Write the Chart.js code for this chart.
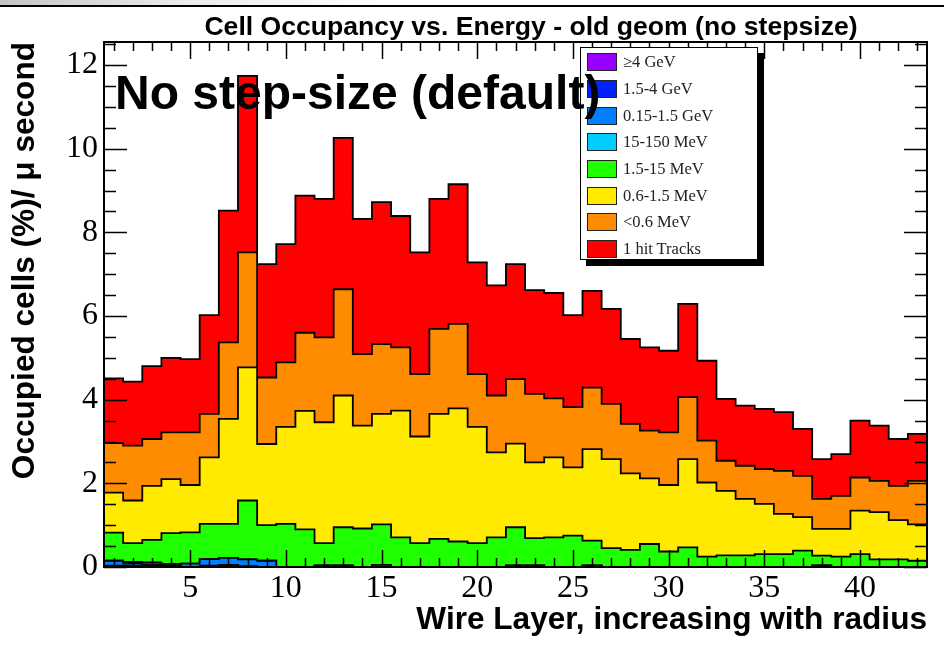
<!DOCTYPE html>
<html>
<head>
<meta charset="utf-8">
<title>Cell Occupancy vs. Energy</title>
<script src="https://cdn.jsdelivr.net/npm/chart.js@4"></script>
<style>
	body{margin:0;background:#fff;}
	#wrap{position:relative;width:944px;height:645px;overflow:hidden;background:#fff;}
	#topBar{position:absolute;left:0;top:0;width:944px;height:5px;background:linear-gradient(to right,#c4c4c4,#ececec 20%,#fff 40%);border-bottom:2px solid #000;}
	#chartTitle{position:absolute;left:131px;top:13px;width:800px;text-align:center;font:bold 26.6px "Liberation Sans",Arial,sans-serif;line-height:1;color:#000;white-space:nowrap;}
	#stepNote{position:absolute;left:115px;top:69px;font:bold 48px "Liberation Sans",Arial,sans-serif;line-height:1;color:#000;white-space:nowrap;}
	#legendBox{position:absolute;left:580px;top:47px;width:178px;height:213px;box-sizing:border-box;border:1.5px solid #000;background:#fff;box-shadow:6px 6px 0 #000;padding:1px 0 0 6px;}
	.legendRow{height:26.7px;display:flex;align-items:center;}
	.legendSwatch{width:30px;height:18px;box-sizing:border-box;border:1.5px solid #222;margin-right:6px;}
	.legendText{font:16.5px "Liberation Serif","Times New Roman",serif;color:#222;white-space:nowrap;}
</style>
</head>
<body>
<div id="wrap">
	<canvas id="occupancy" width="944" height="645"></canvas>
	<div id="topBar"></div>
	<div id="chartTitle">Cell Occupancy vs. Energy - old geom (no stepsize)</div>
	<div id="legendBox"></div>
	<div id="stepNote">No step-size (default)</div>
</div>
<script>
// Wire layers and occupancy (%/us) per energy band, bottom of the stack first
const layers = [1,2,3,4,5,6,7,8,9,10,11,12,13,14,15,16,17,18,19,20,21,22,23,24,25,26,27,28,29,30,31,32,33,34,35,36,37,38,39,40,41,42,43];
const xTicks = [5,10,15,20,25,30,35,40];
const yTicks = [0,2,4,6,8,10,12];

const bandLabels = ['\u22654 GeV', '1.5-4 GeV', '0.15-1.5 GeV', '15-150 MeV', '1.5-15 MeV', '0.6-1.5 MeV', '<0.6 MeV', '1 hit Tracks'];
const bandColors = ['#9900ff', '#0022ff', '#0080ff', '#00ccff', '#1eff00', '#ffea00', '#ff8c00', '#ff0000'];

const over4GeV = [0,0,0,0.04,0,0,0.02,0,0,0, 0,0,0,0,0,0,0,0,0,0, 0,0,0,0,0,0,0,0,0,0, 0,0,0,0,0,0,0,0,0,0, 0,0,0];
const gev1p5to4 = [0.03,0.03,0.02,0.03,0,0.03,0.03,0.02,0,0, 0,0,0,0,0,0,0,0,0,0, 0,0,0,0,0,0,0,0,0,0, 0,0,0,0,0,0,0,0,0,0, 0,0,0];
const gev0p15to1p5 = [0.12,0.06,0.04,0,0.08,0.16,0.17,0.16,0.15,0, 0,0.04,0.04,0,0.05,0,0,0,0,0, 0,0.04,0.04,0,0,0.04,0,0,0,0, 0,0,0,0,0,0,0,0.04,0,0, 0,0,0];
const mev15to150 = [0,0.03,0.05,0,0,0,0,0,0,0, 0,0,0,0,0,0,0,0,0,0, 0,0,0,0,0,0,0,0,0,0, 0,0,0,0,0,0,0,0,0,0, 0,0,0];
const mev1p5to15 = [0.67,0.45,0.54,0.74,0.75,0.84,0.81,1.41,0.85,1.03, 0.90,0.53,0.91,0.92,0.97,0.71,0.57,0.67,0.61,0.57, 0.71,0.91,0.65,0.71,0.75,0.59,0.45,0.41,0.55,0.37, 0.47,0.25,0.28,0.28,0.31,0.31,0.39,0.23,0.25,0.31, 0.18,0.18,0.15];
const mev0p6to1p5 = [0.96,1.02,1.29,1.29,1.13,1.59,2.51,3.18,1.94,2.32, 2.83,2.89,3.15,2.46,2.64,3.03,2.55,2.99,3.18,2.78, 2.03,2.00,1.81,1.91,1.63,2.19,2.13,1.83,1.57,1.59, 2.11,1.77,1.54,1.35,1.20,0.96,0.80,0.64,0.66,1.04, 1.13,0.94,0.87];
const below0p6MeV = [1.18,1.31,1.12,1.12,1.26,1.04,1.83,2.75,1.59,1.54, 1.87,2.03,2.54,1.71,1.67,1.51,1.49,2.03,2.02,1.26, 1.36,1.54,1.64,1.41,1.44,1.47,1.32,1.18,1.14,1.26, 1.48,1.00,0.72,0.79,0.83,1.03,0.99,0.72,0.79,0.79, 0.75,0.82,1.04];
const oneHitTracks = [1.55,1.53,1.74,1.78,1.75,2.36,3.15,4.22,2.71,2.83, 3.28,3.31,3.62,3.23,3.39,3.14,2.91,3.11,3.34,2.67, 2.63,2.75,2.48,2.52,2.20,2.31,2.27,2.03,1.99,1.95, 2.23,1.91,1.48,1.44,1.44,1.40,1.12,0.95,1.00,1.36, 1.32,1.12,1.12];

const bandValues = [over4GeV, gev1p5to4, gev0p15to1p5, mev15to150, mev1p5to15, mev0p6to1p5, below0p6MeV, oneHitTracks];

//Turn one band into histogram steps: a point at each bin's high edge, plus the opening edge
function toSteps(values){
	let pts = [{x: layers[0] - 0.5, y: values[0]}];
	layers.forEach((l, i) => pts.push({x: l + 0.5, y: values[i]}));
	return pts;
}

// ROOT style frame: inward ticks on all four sides
const frameTicks = {
	id: 'frameTicks',
	afterDatasetsDraw(chart){
		let ctx = chart.ctx;
		let area = chart.chartArea;
		let xs = chart.scales.x;
		let ys = chart.scales.y;
		ctx.save();
		ctx.strokeStyle = '#000';
		ctx.lineWidth = 1.5;
		ctx.beginPath();
		layers.forEach(l => {
			let px = Math.round(xs.getPixelForValue(l)) + 0.5;
			let len = (l % 5 === 0) ? 17 : 9;
			ctx.moveTo(px, area.bottom); ctx.lineTo(px, area.bottom - len);
			ctx.moveTo(px, area.top); ctx.lineTo(px, area.top + len);
		});
		for(let v = 0; v <= ys.max; v += 0.5){
			let py = Math.round(ys.getPixelForValue(v)) + 0.5;
			let len = (v % 2 === 0) ? 23 : 12;
			ctx.moveTo(area.left, py); ctx.lineTo(area.left + len, py);
			ctx.moveTo(area.right, py); ctx.lineTo(area.right - len, py);
		}
		ctx.stroke();
		ctx.lineWidth = 2;
		ctx.strokeRect(area.left, area.top, area.right - area.left, area.bottom - area.top);
		ctx.restore();
	}
};

function buildLegend(){
	let box = document.querySelector('#legendBox');
	bandLabels.forEach((label, i) => {
		let row = document.createElement('div');
		row.className = 'legendRow';
		let swatch = document.createElement('div');
		swatch.className = 'legendSwatch';
		swatch.style.background = bandColors[i];
		let text = document.createElement('span');
		text.className = 'legendText';
		text.textContent = label;
		row.appendChild(swatch);
		row.appendChild(text);
		box.appendChild(row);
	});
}

document.addEventListener('DOMContentLoaded', () => {
	buildLegend();

	// stepped 'after' in Chart.js: jump at the previous point, then flat to this one
	let datasets = bandValues.map((values, i) => ({
		label: bandLabels[i],
		data: toSteps(values),
		backgroundColor: bandColors[i],
		borderColor: '#000',
		borderWidth: 1.8,
		stepped: 'after',
		pointRadius: 0,
		fill: i === 0 ? 'origin' : '-1'
	}));

	let ctx = document.querySelector('#occupancy').getContext('2d');
	new Chart(ctx, {
		type: 'line',
		data: {datasets: datasets},
		plugins: [frameTicks],
		options: {
			responsive: false,
			animation: false,
			layout: {padding: {top: 42, right: 17, bottom: 0, left: 0}},
			plugins: {
				legend: {display: false},
				tooltip: {enabled: false}
			},
			scales: {
				x: {
					type: 'linear',
					min: 0.5,
					max: 43.5,
					grid: {display: false, drawTicks: false},
					border: {display: false},
					afterBuildTicks: scale => { scale.ticks = xTicks.map(v => ({value: v})); },
					afterFit: scale => { scale.height = 78; },
					ticks: {
						color: '#000',
						padding: 2,
						maxRotation: 0,
						autoSkip: false,
						font: {family: '"Liberation Serif", "Times New Roman", serif', size: 32}
					},
					title: {
						display: true,
						text: 'Wire Layer, increasing with radius',
						align: 'end',
						color: '#000',
						padding: {top: 0, bottom: 6},
						font: {family: '"Liberation Sans", Arial, sans-serif', size: 31.6, weight: 'bold'}
					}
				},
				y: {
					stacked: true,
					min: 0,
					max: 12.55,
					grid: {display: false, drawTicks: false},
					border: {display: false},
					afterBuildTicks: scale => { scale.ticks = yTicks.map(v => ({value: v})); },
					afterFit: scale => { scale.width = 104; },
					ticks: {
						color: '#000',
						padding: 6,
						font: {family: '"Liberation Serif", "Times New Roman", serif', size: 32}
					},
					title: {
						display: true,
						text: 'Occupied cells (%)/ \u03bc second',
						align: 'end',
						color: '#000',
						padding: {top: 6, bottom: 0},
						font: {family: '"Liberation Sans", Arial, sans-serif', size: 31.6, weight: 'bold'}
					}
				}
			}
		}
	});
});
</script>
</body>
</html>
